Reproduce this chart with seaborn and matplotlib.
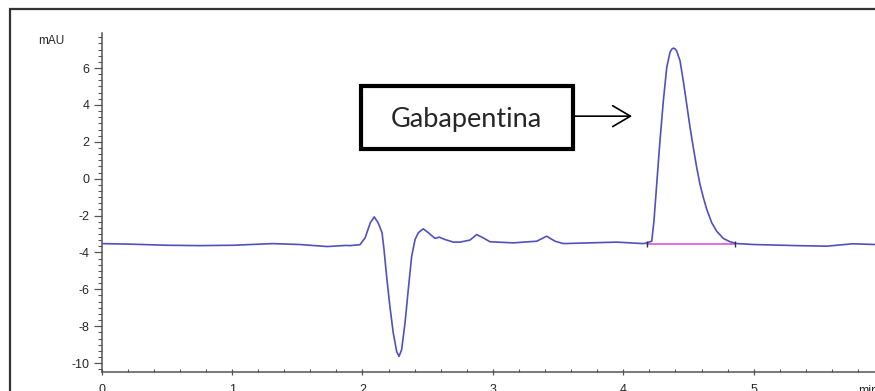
import matplotlib
matplotlib.use('Agg')
import matplotlib.pyplot as plt
from matplotlib.patches import Rectangle
from matplotlib.ticker import MultipleLocator
import seaborn as sns

# chromatogram (time in min, signal in mAU)
time_min = [0.00, 0.22, 0.50, 0.75, 1.01, 1.31, 1.52, 1.73, 1.87, 1.904, 1.98,
            2.02, 2.06, 2.09, 2.12, 2.15, 2.165, 2.185, 2.21, 2.236, 2.262,
            2.28, 2.30, 2.326, 2.351, 2.377, 2.403, 2.428, 2.466, 2.505, 2.556,
            2.589, 2.633, 2.697, 2.748, 2.824, 2.876, 2.926, 2.978, 3.157,
            3.336, 3.412, 3.476, 3.54, 3.745, 3.95, 4.153, 4.18, 4.218, 4.235,
            4.256, 4.281, 4.307, 4.333, 4.358, 4.371, 4.384, 4.397, 4.409,
            4.435, 4.46, 4.486, 4.512, 4.537, 4.563, 4.588, 4.614, 4.64,
            4.678, 4.716, 4.767, 4.818, 4.87, 5.00, 5.33, 5.56, 5.76, 5.93]
signal_mau = [-3.52, -3.55, -3.61, -3.63, -3.61, -3.52, -3.57, -3.68, -3.62,
              -3.63, -3.58, -3.21, -2.39, -2.07, -2.39, -2.93, -3.84, -5.29,
              -6.92, -8.37, -9.37, -9.64, -9.28, -7.83, -6.02, -4.21, -3.30,
              -2.93, -2.72, -2.93, -3.24, -3.17, -3.30, -3.44, -3.44, -3.33,
              -3.03, -3.21, -3.42, -3.48, -3.39, -3.12, -3.39, -3.52, -3.48,
              -3.44, -3.52, -3.48, -3.39, -2.30, -0.31, 2.04, 4.22, 6.03, 6.85,
              7.02, 7.08, 7.04, 6.93, 6.39, 5.30, 4.04, 2.77, 1.68, 0.60,
              -0.31, -1.03, -1.67, -2.39, -2.85, -3.24, -3.42, -3.52, -3.57,
              -3.63, -3.66, -3.53, -3.57]

# integration baseline of the main peak
integ_times = [4.18, 4.857]
integ_levels = [-3.53, -3.53]

peak_label = 'Gabapentina'
x_ticks = [0, 1, 2, 3, 4, 5]
y_ticks = [-10, -8, -6, -4, -2, 0, 2, 4, 6]

sns.set_theme(style='white')
plt.rcParams['font.family'] = ['Liberation Sans', 'DejaVu Sans']
plt.rcParams['axes.unicode_minus'] = False

fig = plt.figure(figsize=(8.75, 3.91), dpi=100)
ax = fig.add_axes([0.1162, 0.0478, 0.8838, 0.8678])

sns.lineplot(x=time_min, y=signal_mau, ax=ax, color='#5050c0', lw=1.2,
             estimator=None, zorder=3)
ax.plot(integ_times, integ_levels, color='#e060e0', lw=1.3, zorder=2)
ax.plot(integ_times, integ_levels, ls='none', marker='|', ms=4,
        color='#333333', zorder=4)

ax.set_xlim(0, 5.93)
ax.set_ylim(-10.5, 7.9)
ax.set_xticks(x_ticks)
ax.set_yticks(y_ticks)
ax.xaxis.set_minor_locator(MultipleLocator(0.2))
ax.yaxis.set_minor_locator(MultipleLocator(1 / 3))

for side in ['top', 'right']:
    ax.spines[side].set_visible(False)
for side in ['left', 'bottom']:
    ax.spines[side].set_color('#555555')
    ax.spines[side].set_linewidth(1.1)

ax.tick_params(axis='y', which='major', direction='out', length=5.8, width=0.9,
               color='#555555', labelsize=9, pad=3, left=True)
ax.tick_params(axis='y', which='minor', direction='out', length=2.9, width=0.8,
               color='#555555', left=True)
ax.tick_params(axis='x', which='major', direction='inout', length=5, width=0.9,
               color='#555555', labelsize=9, pad=6, bottom=True)
ax.tick_params(axis='x', which='minor', direction='in', length=2.4, width=0.8,
               color='#555555', bottom=True)
ax.set_xlabel('')
ax.set_ylabel('')

# axis captions in the corners
fig.text(38 / 875, 1 - 41 / 391, 'mAU', fontsize=8.5, va='center', ha='left')
ax.annotate('min', xy=(5.80, 0), xycoords=('data', 'axes fraction'),
            xytext=(0, -9), textcoords='offset points', fontsize=9,
            ha='left', va='top')

# label box with arrow to the peak
ax.add_patch(Rectangle((1.986, 1.59), 1.628, 3.41, fill=False, lw=3,
                       edgecolor='black', zorder=5))
ax.text(2.80, 3.2, peak_label, fontsize=19.5, family=['Lato', 'DejaVu Sans'],
        ha='center', va='center', zorder=6)
ax.annotate('', xy=(4.067, 3.39), xytext=(3.614, 3.39),
            arrowprops=dict(arrowstyle='->, head_length=0.85, head_width=0.5',
                            lw=1.2, color='black', mutation_scale=15,
                            shrinkA=0, shrinkB=0))

# outer frame
fig.add_artist(Rectangle((10 / 875, -0.2), 1.2, 1.2 - 9 / 391,
                         transform=fig.transFigure, fill=False,
                         lw=1.6, edgecolor='#333333'))

fig.savefig('out.png', dpi=100)
